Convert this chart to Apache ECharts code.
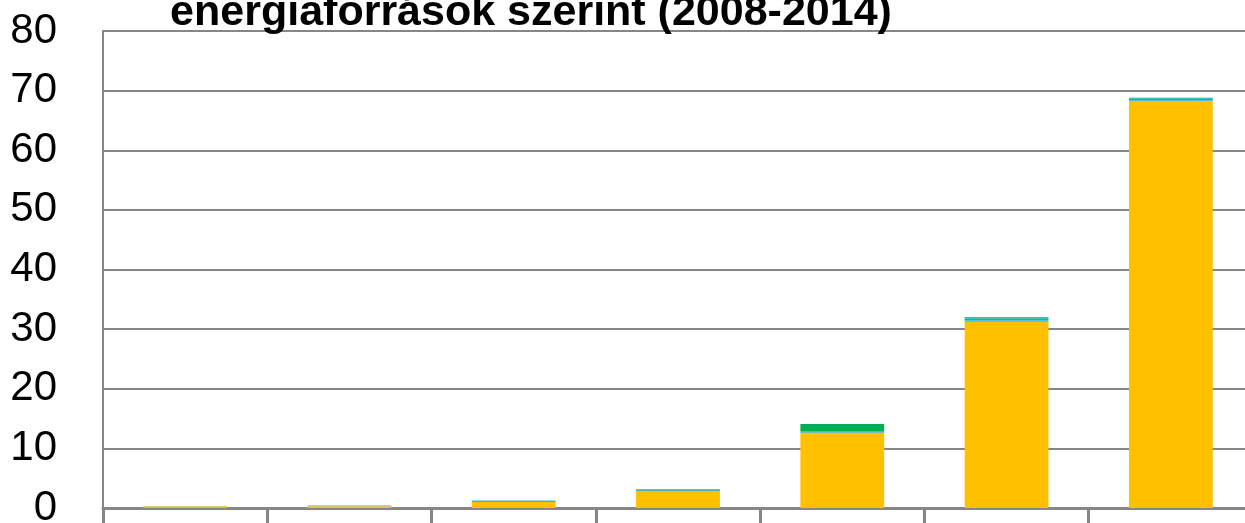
<!DOCTYPE html>
<html>
<head>
<meta charset="utf-8">
<script src="https://cdn.jsdelivr.net/npm/echarts@6/dist/echarts.min.js"></script>
<style>
html,body{margin:0;padding:0;background:#fff;overflow:hidden;}
#chart{width:1245px;height:523px;}
</style>
</head>
<body>
<div id="chart"></div>
<script>
const categories = ['2008','2009','2010','2011','2012','2013','2014'];
const yellowVals = [0.3, 0.3, 1.0, 2.85, 12.6, 31.25, 68.2];
const tealVals   = [0.05, 0.1, 0.2, 0.25, 0.2, 0.2, 0.2];
const blueVals   = [0, 0, 0.05, 0.05, 0.1, 0.35, 0.3];
const greenVals  = [0, 0, 0, 0.05, 1.2, 0.2, 0.1];
const yTicks = [0, 10, 20, 30, 40, 50, 60, 70, 80];

const chart = echarts.init(document.getElementById('chart'));
const mk = (name, data, color) => ({
  name, type: 'bar', stack: 'total', data, barWidth: '51%',
  itemStyle: { color }, animation: false
});
chart.setOption({
  animation: false,
  title: {
    text: 'energiaforrások szerint (2008-2014)',
    left: 526, textAlign: 'center', top: -13,
    textStyle: { fontFamily: 'Liberation Sans', fontWeight: 'bold', fontSize: 43, color: '#000' }
  },
  grid: { left: 103, top: 31, bottom: 15, width: 1150, containLabel: false, outerBoundsMode: 'none' },
  xAxis: {
    type: 'category', data: categories,
    axisLine: { lineStyle: { color: '#868686', width: 3 } },
    axisTick: { show: true, length: 16, lineStyle: { color: '#868686', width: 3 } },
    axisLabel: { show: false }
  },
  yAxis: {
    type: 'value', min: yTicks[0], max: yTicks[yTicks.length - 1], interval: 10,
    axisLine: { show: true, lineStyle: { color: '#868686', width: 2 } },
    axisTick: { show: false },
    splitLine: { lineStyle: { color: '#868686', width: 2 } },
    axisLabel: { fontFamily: 'Liberation Sans', fontSize: 42, color: '#000', margin: 46 }
  },
  series: [
    mk('Napenergia', yellowVals, '#FFC000'),
    mk('Egyéb 1', tealVals, '#4BACC6'),
    mk('Egyéb 2', blueVals, '#00B0F0'),
    mk('Egyéb 3', greenVals, '#00B050')
  ]
});
</script>
</body>
</html>
